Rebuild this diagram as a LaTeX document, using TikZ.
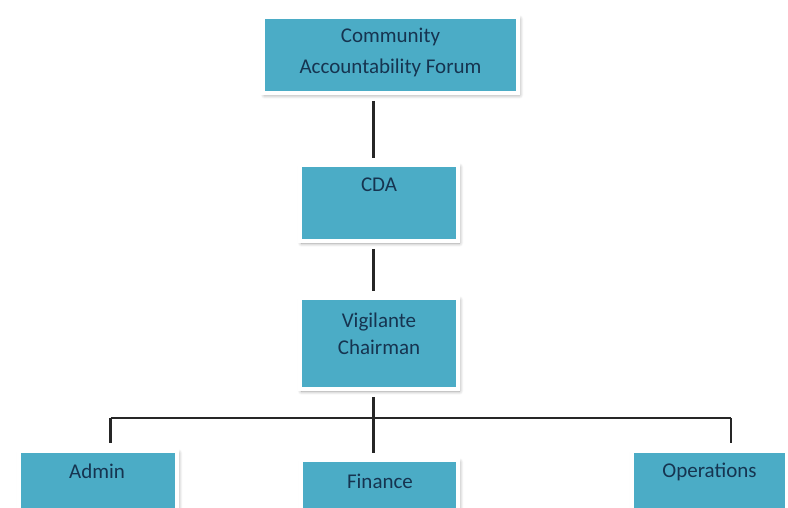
\documentclass[tikz,border=0pt]{standalone}
\usepackage{fontspec}
\setmainfont{Carlito}
\usetikzlibrary{shadows.blur}
\definecolor{boxfill}{HTML}{4BACC6}
\definecolor{boxtext}{HTML}{163450}
\tikzset{
  orgbox/.style={rectangle, fill=boxfill, draw=white, line width=4pt, inner sep=0pt,
    blur shadow={shadow xshift=1.5pt, shadow yshift=-2pt, shadow blur steps=8, shadow blur radius=4pt, shadow opacity=40}},
  boxlabel/.style={text=boxtext, font=\fontsize{21}{25}\selectfont, inner sep=0pt, anchor=base},
  link/.style={draw=black!85, line width=2.2pt}
}
\begin{document}
\begin{tikzpicture}[x=1pt, y=-1pt]
\useasboundingbox (0,0) rectangle (788,508);
% boxes
\node[orgbox, minimum width=255pt, minimum height=76pt] (caf) at (390.5,55) {};
\node[orgbox, minimum width=158pt, minimum height=76pt] (cda) at (379,203) {};
\node[orgbox, minimum width=158pt, minimum height=91pt] (vc) at (379,343.5) {};
\node[orgbox, minimum width=158pt, minimum height=76pt] (admin) at (98,489) {};
\node[orgbox, minimum width=157pt, minimum height=76pt] (fin) at (379.5,498) {};
\node[orgbox, minimum width=155pt, minimum height=76pt] (ops) at (709.5,489) {};
% texts
\node[boxlabel] (caf1) at (390.5,43) {Community};
\node[boxlabel] (caf2) at (390.5,74) {Accountability Forum};
\node[boxlabel] (cdat) at (379,192) {CDA};
\node[boxlabel] (vc1) at (379,327) {Vigilante};
\node[boxlabel] (vc2) at (379,354) {Chairman};
\node[boxlabel] (admint) at (97,478) {Admin};
\node[boxlabel] (fint) at (380,488) {Finance};
\node[boxlabel] (opst) at (709.5,477) {Operations};
% connectors
\coordinate (trunk) at (373.5,418);
\coordinate (lcorner) at (110.5,418);
\coordinate (rcorner) at (731,418);
\draw[link, shorten <=6pt, shorten >=5pt] (caf.south -| trunk) -- (cda.north -| trunk);
\draw[link, shorten <=6pt, shorten >=5pt] (cda.south -| trunk) -- (vc.north -| trunk);
\draw[link, shorten <=6pt, shorten >=5pt] (vc.south -| trunk) -- (fin.north -| trunk);
\draw[link] (lcorner) -- (rcorner);
\draw[link, shorten >=6pt] (lcorner) -- (admin.north -| lcorner);
\draw[link, shorten >=6pt] (rcorner) -- (ops.north -| rcorner);
\end{tikzpicture}
\end{document}
